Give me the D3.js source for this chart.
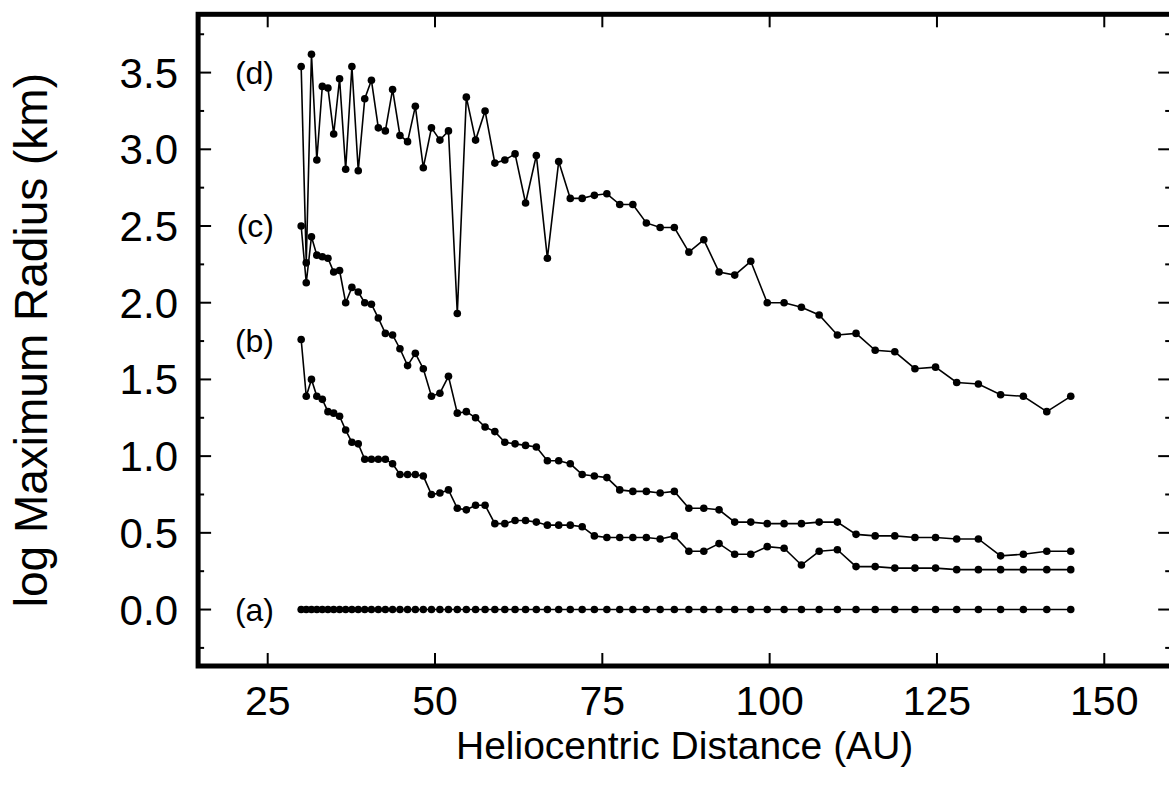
<!DOCTYPE html>
<html>
<head>
<meta charset="utf-8">
<script src="https://cdn.jsdelivr.net/npm/d3@7"></script>
<style>
  body { margin: 0; background: #fff; }
  svg text { font-family: "Liberation Sans", Arial, Helvetica, sans-serif; fill: #000; }
</style>
</head>
<body>
<div id="chart"></div>
<script>
////////////////////// data //////////////////////
let distanceAU = [
  30.0, 30.76, 31.54, 32.34, 33.16, 34.0, 34.86, 35.74, 36.65, 37.58,
  38.53, 39.5, 40.5, 41.53, 42.58, 43.66, 44.76, 45.9, 47.06, 48.25,
  49.47, 50.73, 52.01, 53.33, 54.68, 56.06, 57.48, 58.94, 60.43, 61.96,
  63.53, 65.14, 66.79, 68.48, 70.21, 71.99, 73.81, 75.68, 77.6, 79.56,
  81.58, 83.64, 85.76, 87.93, 90.16, 92.44, 94.78, 97.18, 99.64, 102.16,
  104.75, 107.4, 110.12, 112.91, 115.77, 118.7, 121.71, 124.79, 127.95, 131.19,
  134.51, 137.91, 141.41, 144.99
];
let radiusA = [
  0, 0, 0, 0, 0, 0, 0, 0, 0, 0,
  0, 0, 0, 0, 0, 0, 0, 0, 0, 0,
  0, 0, 0, 0, 0, 0, 0, 0, 0, 0,
  0, 0, 0, 0, 0, 0, 0, 0, 0, 0,
  0, 0, 0, 0, 0, 0, 0, 0, 0, 0,
  0, 0, 0, 0, 0, 0, 0, 0, 0, 0,
  0, 0, 0, 0
];
let radiusB = [
  1.76, 1.39, 1.50, 1.39, 1.37, 1.29, 1.28, 1.26, 1.17, 1.09,
  1.08, 0.98, 0.98, 0.98, 0.98, 0.95, 0.88, 0.88, 0.88, 0.87,
  0.75, 0.76, 0.78, 0.66, 0.65, 0.68, 0.68, 0.56, 0.56, 0.58,
  0.58, 0.57, 0.55, 0.55, 0.55, 0.54, 0.48, 0.47, 0.47, 0.47,
  0.47, 0.46, 0.48, 0.38, 0.38, 0.43, 0.36, 0.36, 0.41, 0.40,
  0.29, 0.38, 0.39, 0.28, 0.28, 0.27, 0.27, 0.27, 0.26, 0.26,
  0.26, 0.26, 0.26, 0.26
];
let radiusC = [
  2.50, 2.13, 2.43, 2.31, 2.30, 2.29, 2.20, 2.21, 2.00, 2.10,
  2.07, 2.00, 1.99, 1.90, 1.80, 1.79, 1.70, 1.59, 1.67, 1.57,
  1.39, 1.41, 1.52, 1.28, 1.29, 1.25, 1.19, 1.16, 1.09, 1.08,
  1.07, 1.06, 0.97, 0.97, 0.95, 0.88, 0.87, 0.86, 0.78, 0.77,
  0.77, 0.76, 0.77, 0.66, 0.66, 0.65, 0.57, 0.57, 0.56, 0.56,
  0.56, 0.57, 0.57, 0.49, 0.48, 0.48, 0.47, 0.47, 0.46, 0.46,
  0.35, 0.36, 0.38, 0.38
];
let radiusD = [
  3.54, 2.26, 3.62, 2.93, 3.41, 3.40, 3.10, 3.46, 2.87, 3.54,
  2.86, 3.33, 3.45, 3.14, 3.12, 3.39, 3.09, 3.05, 3.28, 2.88,
  3.14, 3.06, 3.12, 1.93, 3.34, 3.06, 3.25, 2.91, 2.93, 2.97,
  2.65, 2.96, 2.29, 2.92, 2.68, 2.68, 2.70, 2.71, 2.64, 2.64,
  2.52, 2.49, 2.49, 2.33, 2.41, 2.20, 2.18, 2.27, 2.00, 2.00,
  1.97, 1.92, 1.79, 1.80, 1.69, 1.68, 1.57, 1.58, 1.48, 1.47,
  1.40, 1.39, 1.29, 1.39
];
let seriesNames = ["(a)", "(b)", "(c)", "(d)"];
let seriesLabelValues = [0, 1.75, 2.5, 3.5];
let xTickValues = [25, 50, 75, 100, 125, 150];
let yTickValues = [0, 0.5, 1.0, 1.5, 2.0, 2.5, 3.0, 3.5];
let yMinorTickValues = [-0.25, 0.25, 0.75, 1.25, 1.75, 2.25, 2.75, 3.25, 3.75];
let xTitle = "Heliocentric Distance (AU)";
let yTitle = "log Maximum Radius (km)";

////////////////////// chart //////////////////////
var width = 1169, height = 787;

var svg = d3.select("#chart")
  .append("svg")
  .attr("width", width)
  .attr("height", height);

var x = d3.scaleLinear()
  .domain([14.6, 160])
  .range([198.1, 1171.2]);

var y = d3.scaleLinear()
  .domain([-0.368, 3.88])
  .range([666, 14.3]);

var x0 = x.range()[0], x1 = x.range()[1];
var y0 = y.range()[0], y1 = y.range()[1];

// ticks, drawn inward on all four sides
var tickLen = 13, minorLen = 6;
var ticks = svg.append("g").attr("stroke", "#000").attr("stroke-width", 2);
for (let v of xTickValues) {
  ticks.append("line").attr("x1", x(v)).attr("x2", x(v)).attr("y1", y0).attr("y2", y0 - tickLen);
  ticks.append("line").attr("x1", x(v)).attr("x2", x(v)).attr("y1", y1).attr("y2", y1 + tickLen);
}
for (let v of yTickValues) {
  ticks.append("line").attr("x1", x0).attr("x2", x0 + tickLen).attr("y1", y(v)).attr("y2", y(v));
  ticks.append("line").attr("x1", x1).attr("x2", x1 - tickLen).attr("y1", y(v)).attr("y2", y(v));
}
for (let v of yMinorTickValues) {
  ticks.append("line").attr("x1", x0).attr("x2", x0 + minorLen).attr("y1", y(v)).attr("y2", y(v));
  ticks.append("line").attr("x1", x1).attr("x2", x1 - minorLen).attr("y1", y(v)).attr("y2", y(v));
}

// frame (right side sits just past the picture edge)
svg.append("rect")
  .attr("x", x0).attr("y", y1)
  .attr("width", x1 + 2 - x0).attr("height", y0 - y1)
  .attr("fill", "none")
  .attr("stroke", "#000")
  .attr("stroke-width", 5);

// tick labels
svg.append("g").selectAll("text")
  .data(xTickValues)
  .enter()
  .append("text")
  .attr("x", d => x(d))
  .attr("y", 715)
  .attr("text-anchor", "middle")
  .style("font-size", "41px")
  .text(d => d);

svg.append("g").selectAll("text")
  .data(yTickValues)
  .enter()
  .append("text")
  .attr("x", 178)
  .attr("y", d => y(d) + 15)
  .attr("text-anchor", "end")
  .style("font-size", "42px")
  .text(d => d.toFixed(1));

// axis titles
svg.append("text")
  .attr("x", (x0 + x1) / 2)
  .attr("y", 759)
  .attr("text-anchor", "middle")
  .style("font-size", "39px")
  .text(xTitle);

svg.append("text")
  .attr("transform", "translate(47," + ((y0 + y1) / 2) + ") rotate(-90)")
  .attr("text-anchor", "middle")
  .style("font-size", "46px")
  .text(yTitle);

// series
let seriesValues = [radiusA, radiusB, radiusC, radiusD];
var line = d3.line()
  .x(d => x(d[0]))
  .y(d => y(d[1]));

seriesValues.forEach(function(vals, si) {
  let pts = distanceAU.map((d, i) => [d, vals[i]]);
  let g = svg.append("g");
  g.append("path")
    .datum(pts)
    .attr("d", line)
    .attr("fill", "none")
    .attr("stroke", "#000")
    .attr("stroke-width", 1.6);
  g.selectAll("circle")
    .data(pts)
    .enter()
    .append("circle")
    .attr("cx", d => x(d[0]))
    .attr("cy", d => y(d[1]))
    .attr("r", 3.8)
    .attr("fill", "#000");
  svg.append("text")
    .attr("x", 274)
    .attr("y", y(seriesLabelValues[si]) + 11)
    .attr("text-anchor", "end")
    .style("font-size", "32px")
    .text(seriesNames[si]);
});
</script>
</body>
</html>
